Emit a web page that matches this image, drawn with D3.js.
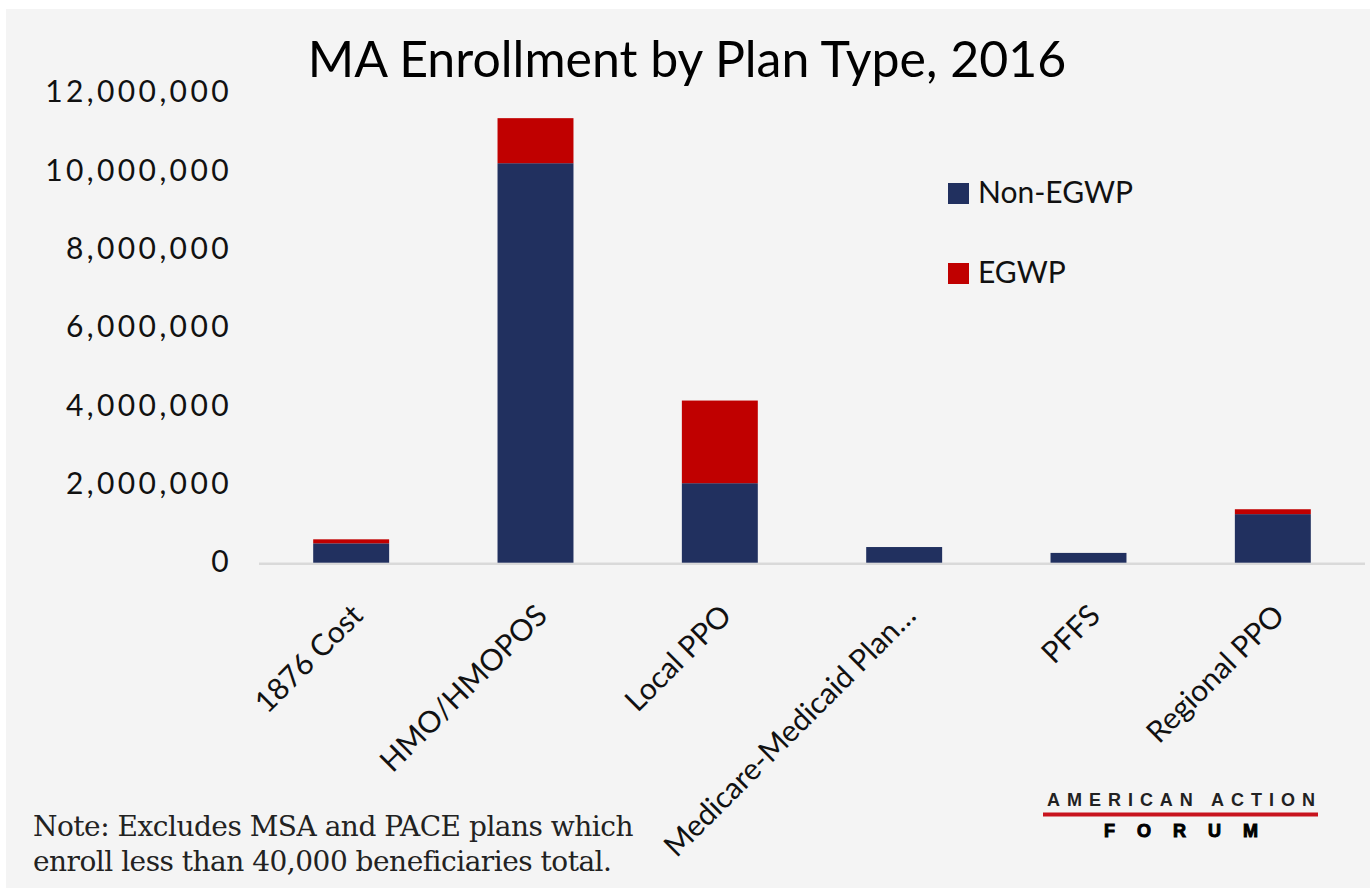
<!DOCTYPE html>
<html>
<head>
<meta charset="utf-8">
<script src="https://cdn.jsdelivr.net/npm/d3@7"></script>
<style>
  html, body { margin: 0; padding: 0; background: #ffffff; }
  svg { display: block; }
</style>
</head>
<body>
<svg id="chart" width="1370" height="895"></svg>
<script>
const categories = ["1876 Cost", "HMO/HMOPOS", "Local PPO", "Medicare-Medicaid Plan…", "PFFS", "Regional PPO"];
const nonEGWP = [495000, 10200000, 2030000, 400000, 250000, 1240000];
const egwp = [102000, 1150000, 2110000, 0, 0, 125000];
const seriesNames = ["Non-EGWP", "EGWP"];
const seriesColors = ["#21305f", "#c00000"];
const yTicks = [0, 2000000, 4000000, 6000000, 8000000, 10000000, 12000000];
const titleText = "MA Enrollment by Plan Type, 2016";
const noteLines = ["Note: Excludes MSA and PACE plans which", "enroll less than 40,000 beneficiaries total."];

const svg = d3.select("#chart");
svg.append("rect").attr("x", 6).attr("y", 9).attr("width", 1364).attr("height", 879).attr("fill", "#f4f4f4");

const x = d3.scaleBand().domain(categories).range([259, 1365]).paddingInner(0.588).paddingOuter(0.294);
const y = d3.scaleLinear().domain([0, 12000000]).range([562.7, 92.7]);

const rows = categories.map((c, i) => ({cat: c, "Non-EGWP": nonEGWP[i], "EGWP": egwp[i]}));
const stack = d3.stack().keys(seriesNames)(rows);

// baseline axis line
svg.append("line").attr("x1", 259).attr("x2", 1365).attr("y1", y(0) + 1).attr("y2", y(0) + 1)
  .attr("stroke", "#d9d9d9").attr("stroke-width", 2.5);

svg.append("g").selectAll("g").data(stack).join("g")
  .attr("fill", (d, i) => seriesColors[i])
  .selectAll("rect").data(d => d.filter(p => p[1] - p[0] > 0)).join("rect")
  .attr("x", d => x(d.data.cat))
  .attr("width", x.bandwidth())
  .attr("y", d => y(d[1]))
  .attr("height", d => y(d[0]) - y(d[1]));

// Y axis
const yAxis = d3.axisLeft(y).tickValues(yTicks).tickFormat(d3.format(",")).tickSize(0).tickPadding(0);
const yg = svg.append("g").attr("transform", "translate(232,0)").call(yAxis);
yg.select(".domain").remove();
yg.selectAll("text").attr("font-family", "Lato").attr("font-size", 30).attr("fill", "#111")
  .attr("letter-spacing", 3.4).attr("dy", "0.30em");

// X axis labels
const xAxis = d3.axisBottom(x).tickSize(0).tickPadding(0);
const xg = svg.append("g").call(xAxis);
xg.select(".domain").remove();
xg.selectAll(".tick").attr("transform", d => `translate(${x(d) + x.bandwidth() / 2 + 6},610)`);
xg.selectAll("text").attr("font-family", "Lato").attr("font-size", 30).attr("fill", "#111")
  .attr("text-anchor", "end").attr("transform", "rotate(-45)").attr("dy", "0.35em").attr("y", 0);

// Title
svg.append("text").attr("x", 687).attr("y", 77).attr("text-anchor", "middle")
  .attr("font-family", "Lato").attr("font-size", 50).attr("fill", "#000").text(titleText);

// Legend
const legend = svg.append("g");
[0, 1].forEach(idx => {
  const gy = [183, 263][idx];
  legend.append("rect").attr("x", 948).attr("y", gy).attr("width", 21).attr("height", 21).attr("fill", seriesColors[idx]);
  legend.append("text").attr("x", 978).attr("y", gy + 20).attr("font-family", "Lato").attr("font-size", 30)
    .attr("fill", "#111").text(seriesNames[idx]);
});

// Note
noteLines.forEach((t, i) => {
  svg.append("text").attr("x", 33).attr("y", 836 + i * 35).attr("font-family", "DejaVu Serif")
    .attr("font-size", 28).attr("fill", "#222").attr("letter-spacing", -0.5).text(t);
});

// Logo
svg.append("text").attr("x", 1047).attr("y", 806).attr("font-family", "Liberation Sans").attr("font-weight", "bold")
  .attr("font-size", 18).attr("fill", "#222").attr("textLength", 268).attr("lengthAdjust", "spacing").text("AMERICAN ACTION");
svg.append("rect").attr("x", 1043).attr("y", 812.5).attr("width", 275).attr("height", 4).attr("fill", "#c8141e");
svg.append("text").attr("x", 1104).attr("y", 837).attr("font-family", "Liberation Sans").attr("font-weight", "bold")
  .attr("font-size", 18).attr("fill", "#000").attr("stroke", "#000").attr("stroke-width", 1)
  .attr("textLength", 154).attr("lengthAdjust", "spacing").text("FORUM");
</script>
</body>
</html>
